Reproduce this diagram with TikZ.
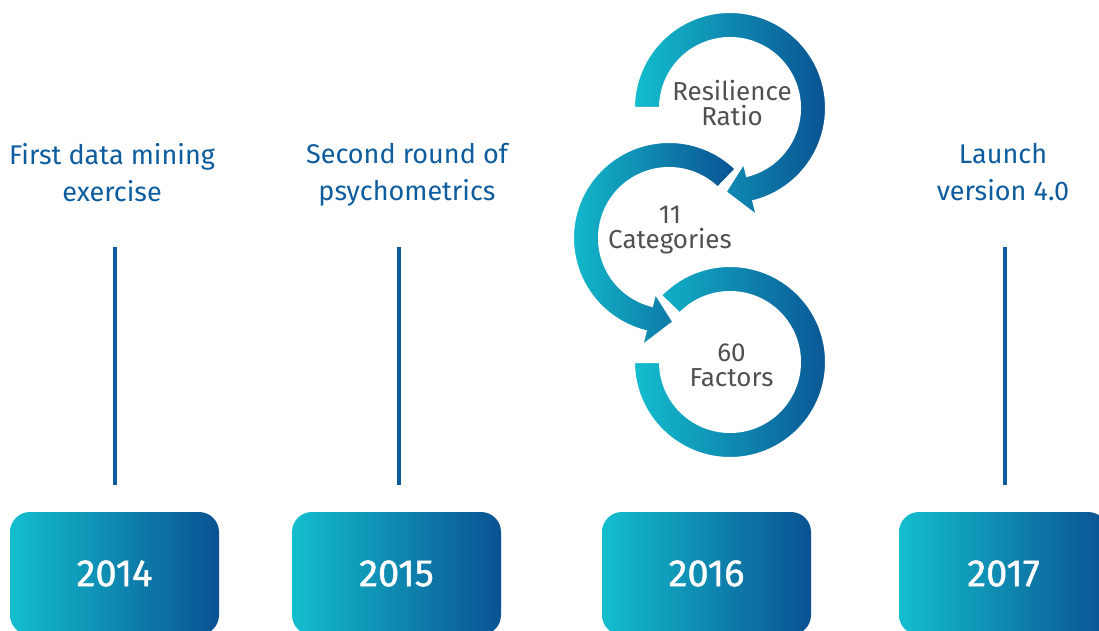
\documentclass[tikz,border=0pt]{standalone}
\usepackage{fontspec}
\setmainfont{Fira Sans}
\newfontfamily\yearfont[FakeBold=1.2]{Fira Sans}
\usepackage{tikz}
\usetikzlibrary{calc}
\definecolor{tealstart}{RGB}{19,190,206}
\definecolor{navyend}{RGB}{10,82,146}
\definecolor{labelblue}{RGB}{12,92,158}
\definecolor{ringgray}{RGB}{80,80,80}
\newcommand{\outr}{96}
\newcommand{\innr}{70}
\newcommand{\headin}{57}
\newcommand{\headout}{111}
\newcommand{\headr}{84}

\begin{document}
\begin{tikzpicture}[x=1pt,y=1pt]
            \tikzset{yearbox/.style = {rounded corners=20pt, minimum width=209pt, minimum height=123pt, inner sep=0pt,
                                       left color=tealstart, right color=navyend, text=white, font=\yearfont\fontsize{38}{40}\selectfont}}
            \tikzset{milestone/.style = {align=center, anchor=north, inner sep=0pt, text=labelblue, font=\fontsize{27}{37}\selectfont}}
            \tikzset{ringtext/.style = {align=center, inner sep=0pt, text=ringgray, font=\fontsize{26}{25}\selectfont}}
            \tikzset{ring/.style = {left color=tealstart, right color=navyend, draw=white, line width=2pt}}
            \tikzset{stem/.style = {draw=labelblue, line width=3.3pt}}
            \useasboundingbox (0,0) rectangle (1099,630);
            \clip (0,0) rectangle (1099,630);

            \node[yearbox] (y14) at (114.5,56.5) {2014};
            \node[yearbox] (y15) at (396.5,56.5) {2015};
            \node[yearbox] (y16) at (706.5,56.5) {2016};
            \node[yearbox] (y17) at (1003.5,56.5) {2017};

            \node[milestone] (lab14) at (112,487) {First data mining\\exercise};
            \node[milestone] (lab15) at (407,487) {Second round of\\psychometrics};
            \node[milestone] (lab17) at (1003,487) {Launch\\version 4.0};

            \coordinate (stemtop) at (0,383);
            \draw[stem] ([xshift=0.5pt]y14.north |- stemtop) -- ([xshift=0.5pt,yshift=27pt]y14.north);
            \draw[stem] ([xshift=2.5pt]y15.north |- stemtop) -- ([xshift=2.5pt,yshift=27pt]y15.north);
            \draw[stem] ([xshift=1.5pt]y17.north |- stemtop) -- ([xshift=1.5pt,yshift=27pt]y17.north);

            \coordinate (c1) at (730,522);
            \coordinate (c2) at (669,392);
            \coordinate (c3) at (730,268);

            \path[ring] ($(c3)+(136:\outr)$) arc[start angle=136, end angle=-180, radius=\outr pt]
                -- ($(c3)+(180:\innr)$) arc[start angle=-180, end angle=136, radius=\innr pt] -- cycle;
            \path[ring] ($(c2)+(46:\outr)$) arc[start angle=46, end angle=256, radius=\outr pt]
                -- ($(c2)+(256:\headout)$) -- ($(c2)+(273:\headr)$) -- ($(c2)+(256:\headin)$)
                -- ($(c2)+(256:\innr)$) arc[start angle=256, end angle=46, radius=\innr pt] -- cycle;
            \path[ring] ($(c1)+(180:\outr)$) arc[start angle=180, end angle=-76, radius=\outr pt]
                -- ($(c1)+(-76:\headout)$) -- ($(c1)+(-93:\headr)$) -- ($(c1)+(-76:\headin)$)
                -- ($(c1)+(-76:\innr)$) arc[start angle=-76, end angle=180, radius=\innr pt] -- cycle;

            \node[ringtext] (ratio) at ([shift={(2,5)}]c1) {Resilience\\Ratio};
            \node[ringtext] (categories) at ([shift={(1,8)}]c2) {11\\Categories};
            \node[ringtext] (factors) at ([shift={(1.5,-3)}]c3) {60\\Factors};
\end{tikzpicture}
\end{document}
